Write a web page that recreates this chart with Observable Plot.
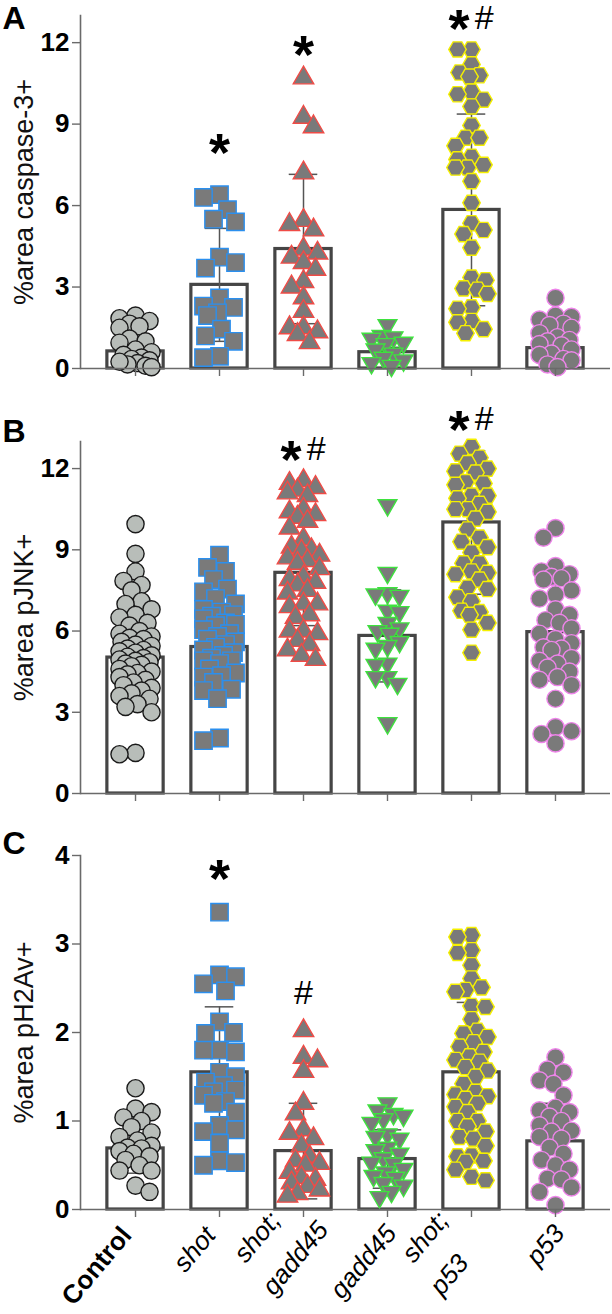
<!DOCTYPE html>
<html><head><meta charset="utf-8">
<script src="https://cdn.jsdelivr.net/npm/d3@7"></script>
<script src="https://cdn.jsdelivr.net/npm/@observablehq/plot@0.6"></script>
<style>
html,body{margin:0;padding:0;background:#fff}
body{width:612px;font-family:"Liberation Sans",Arial,Helvetica,sans-serif}
#chart svg{display:block}
</style></head><body><div id="chart"></div>
<script>
// ---------- categories ----------
const categories = ["Control", "shot", "shot;\ngadd45", "gadd45", "shot;\np53", "p53"];

// ---------- Panel A: %area caspase-3+ ----------
const caspControl = [1.95, 1.85, 1.75, 1.65, 1.55, 1.5, 1.1, 1.0, 0.95, 0.7, 0.6, 0.5, 0.4, 0.35, 0.3, 0.2, 0.15, 0.1, 0.05, 0.25];
const caspShot = [6.4, 6.3, 5.85, 5.5, 5.4, 4.1, 3.9, 3.7, 2.6, 2.3, 2.25, 2.05, 1.95, 1.45, 1.2, 1.0, 0.45, 0.4];
const caspShotGadd45 = [10.7, 9.25, 8.9, 7.2, 5.45, 5.3, 5.1, 4.4, 4.25, 4.1, 3.9, 3.65, 3.2, 3.0, 2.6, 2.1, 1.5, 1.5, 1.35, 1.25, 0.95];
const caspGadd45 = [1.6, 1.2, 1.15, 1.1, 0.95, 0.9, 0.7, 0.55, 0.4, 0.3, 0.2, 0.1];
const caspShotP53 = [11.75, 11.75, 11.2, 10.9, 10.8, 10.75, 10.2, 10.1, 9.9, 9.65, 8.95, 8.5, 8.5, 8.2, 7.8, 7.7, 7.5, 7.4, 7.4, 6.9, 6.1, 5.35, 5.1, 4.95, 4.45, 3.35, 3.25, 2.95, 2.9, 2.75, 2.25, 2.2, 1.75, 1.7, 1.45, 1.3];
const caspP53 = [2.6, 1.95, 1.9, 1.8, 1.65, 1.6, 1.5, 1.3, 1.15, 1.05, 1.0, 0.9, 0.85, 0.7, 0.55, 0.5, 0.35, 0.3, 0.15, 0.05];
const caspMean = [0.63, 3.08, 4.4, 0.6, 5.84, 0.75];
const caspSD = [0.52, 2.08, 2.75, 0.18, 3.53, 0.5];
const caspSig = ["", "*", "*", "", "*#", ""];
const caspSigY = [null, 8.35, 11.96, null, 12.92, null];
const caspTicks = [0, 3, 6, 9, 12];

// ---------- Panel B: %area pJNK+ ----------
const jnkControl = [9.95, 8.85, 8.2, 7.85, 7.7, 7.5, 7.1, 7.0, 6.8, 6.6, 6.5, 6.3, 6.2, 6.0, 5.9, 5.8, 5.75, 5.7, 5.6, 5.5, 5.45, 5.35, 5.3, 5.25, 5.2, 5.1, 5.05, 5.0, 4.95, 4.9, 4.85, 4.8, 4.75, 4.7, 4.6, 4.5, 4.45, 4.4, 4.3, 4.2, 4.1, 4.0, 3.9, 3.8, 3.7, 3.6, 3.5, 3.3, 3.2, 3.0, 1.5, 1.45];
const jnkShot = [8.8, 8.35, 8.2, 7.9, 7.55, 7.45, 7.2, 7.0, 6.8, 6.7, 6.6, 6.55, 6.45, 6.3, 6.25, 6.2, 6.05, 5.9, 5.8, 5.7, 5.6, 5.5, 5.4, 5.3, 5.2, 5.1, 5.0, 4.9, 4.9, 4.8, 4.6, 4.45, 4.35, 4.3, 4.1, 3.85, 3.8, 3.5, 2.05, 1.95];
const jnkShotGadd45 = [11.55, 11.45, 11.3, 11.2, 11.1, 11.0, 10.5, 10.4, 10.3, 10.2, 10.05, 9.8, 9.4, 9.1, 9.0, 8.95, 8.8, 8.7, 8.6, 8.5, 8.3, 8.0, 7.9, 7.8, 7.7, 7.5, 7.4, 7.0, 7.0, 6.9, 6.6, 6.5, 6.0, 6.0, 5.9, 5.65, 5.5, 5.3, 5.1, 4.95];
const jnkGadd45 = [10.65, 8.15, 7.4, 7.35, 7.3, 6.75, 6.7, 6.3, 6.1, 6.0, 5.9, 5.6, 5.45, 5.35, 4.8, 4.75, 4.3, 4.3, 4.05, 2.6];
const jnkShotP53 = [12.8, 12.55, 12.4, 12.2, 12.0, 11.85, 11.9, 11.5, 11.45, 11.4, 11.0, 11.0, 10.9, 10.7, 10.5, 10.5, 10.4, 10.15, 9.75, 9.45, 9.3, 9.1, 8.9, 8.5, 8.5, 8.2, 8.15, 8.1, 7.9, 7.6, 7.55, 7.25, 7.1, 6.75, 6.7, 6.6, 6.3, 6.05, 5.2];
const jnkP53 = [9.8, 9.45, 8.4, 8.2, 8.1, 8.0, 7.95, 7.9, 7.5, 7.35, 7.2, 6.8, 6.6, 6.4, 6.3, 6.1, 5.9, 5.7, 5.55, 5.4, 5.35, 5.3, 5.0, 4.9, 4.8, 4.65, 4.5, 4.3, 4.2, 4.0, 3.5, 2.45, 2.3, 2.2, 1.85];
const jnkMean = [5.02, 5.41, 8.15, 5.82, 10.01, 5.96];
const jnkSD = [1.5, 1.4, 1.95, 1.7, 2.65, 1.8];
const jnkSig = ["", "", "*#", "", "*#", ""];
const jnkSigY = [null, null, 12.73, null, 13.84, null];
const jnkTicks = [0, 3, 6, 9, 12];

// ---------- Panel C: %area pH2Av+ ----------
const h2avControl = [1.37, 1.14, 1.1, 1.04, 1.0, 0.93, 0.87, 0.82, 0.78, 0.72, 0.7, 0.69, 0.66, 0.63, 0.6, 0.56, 0.5, 0.44, 0.44, 0.27, 0.2];
const h2avShot = [3.36, 2.65, 2.63, 2.55, 2.47, 2.12, 2.0, 1.99, 1.8, 1.8, 1.78, 1.55, 1.5, 1.44, 1.4, 1.35, 1.33, 1.29, 1.22, 1.2, 1.1, 0.95, 0.9, 0.88, 0.75, 0.55, 0.53, 0.5];
const h2avShotGadd45 = [2.02, 1.72, 1.68, 1.56, 1.2, 1.08, 0.9, 0.86, 0.8, 0.72, 0.6, 0.55, 0.52, 0.5, 0.42, 0.36, 0.34, 0.3, 0.26, 0.22, 0.18, 0.15];
const h2avGadd45 = [1.2, 1.12, 1.08, 1.06, 1.02, 0.98, 0.85, 0.82, 0.8, 0.7, 0.67, 0.63, 0.58, 0.53, 0.52, 0.46, 0.42, 0.38, 0.36, 0.3, 0.27, 0.2, 0.14];
const h2avShotP53 = [3.1, 3.08, 2.93, 2.9, 2.76, 2.61, 2.51, 2.48, 2.46, 2.3, 2.29, 2.15, 2.02, 1.99, 1.95, 1.89, 1.84, 1.78, 1.73, 1.69, 1.67, 1.61, 1.57, 1.5, 1.42, 1.33, 1.3, 1.28, 1.25, 1.2, 1.16, 1.1, 1.0, 1.0, 0.94, 0.88, 0.82, 0.8, 0.72, 0.61, 0.6, 0.55, 0.54, 0.45, 0.37, 0.33];
const h2avP53 = [1.72, 1.58, 1.55, 1.46, 1.42, 1.29, 1.15, 1.12, 1.1, 1.05, 1.0, 0.95, 0.89, 0.88, 0.82, 0.8, 0.7, 0.63, 0.56, 0.5, 0.45, 0.35, 0.34, 0.25, 0.2, 0.05];
const h2avMean = [0.69, 1.55, 0.66, 0.57, 1.55, 0.77];
const h2avSD = [0.28, 0.74, 0.54, 0.33, 0.79, 0.43];
const h2avSig = ["", "*", "#", "", "", ""];
const h2avSigY = [null, 3.86, 2.44, null, null, null];
const h2avTicks = [0, 1, 2, 3, 4];

// ---------- styling ----------
const FONT = '"Liberation Sans", Arial, Helvetica, sans-serif';
const W = 612, ML = 80, MR = 2;
const XMIN = -0.655, XMAX = 5.655;
const PX_PER_UNIT = (W - ML - MR) / (XMAX - XMIN);
const AXIS = "#6a6a6a";
const BAR = "#454545";
const PT = "#7a7a7a";

const sqrt3 = Math.sqrt(3);
const triDown = {
  draw(ctx, size) {
    const y = Math.sqrt(size / (sqrt3 * 3));
    ctx.moveTo(0, 2 * y);
    ctx.lineTo(-sqrt3 * y, -y);
    ctx.lineTo(sqrt3 * y, -y);
    ctx.closePath();
  }
};
const hexFlat = {
  draw(ctx, size) {
    const r = Math.sqrt(size / Math.PI), R = r * 2 / sqrt3;
    ctx.moveTo(R, 0);
    ctx.lineTo(R / 2, r);
    ctx.lineTo(-R / 2, r);
    ctx.lineTo(-R, 0);
    ctx.lineTo(-R / 2, -r);
    ctx.lineTo(R / 2, -r);
    ctx.closePath();
  }
};
const groupStyles = [
  {symbol: "circle", r: 8.6, fill: "#b8bdb9", stroke: "#1a1a1a"},
  {symbol: "square", r: 9.8, fill: PT, stroke: "#2b8fee"},
  {symbol: "triangle", r: 7.6, fill: PT, stroke: "#f04b46"},
  {symbol: triDown, r: 7.0, fill: PT, stroke: "#3ee23e"},
  {symbol: hexFlat, r: 7.6, fill: PT, stroke: "#f5f000"},
  {symbol: "circle", r: 8.6, fill: PT, stroke: "#ee84ea"}
];

// deterministic beeswarm-like spread (pixel offsets) so points overlap moderately
function swarm(values, yScale, diam, maxOff) {
  const order = d3.range(values.length).sort((a, b) => values[b] - values[a]);
  const placed = [], off = new Array(values.length);
  const minD = diam * 0.85;
  const cands = [0];
  for (let k = 1; k * 2 <= maxOff; k++) cands.push(k * 2, -k * 2);
  let flip = 1;
  for (const i of order) {
    const py = yScale(values[i]);
    let best = 0, bestD = -1;
    for (const c0 of cands) {
      const cx = c0 * flip;
      let md = Infinity;
      for (const p of placed) {
        const d = Math.hypot(cx - p[0], py - p[1]);
        if (d < md) md = d;
      }
      if (md >= minD) { best = cx; bestD = Infinity; break; }
      if (md > bestD) { bestD = md; best = cx; }
    }
    placed.push([best, py]);
    off[i] = best;
    flip = -flip;
  }
  return off;
}

function panel(cfg) {
  const {groups, means, sds, sig, sigY, ymax, ticks, ylabel, letter, height, mt, mb, letterDy, showLabels} = cfg;
  const yScale = d3.scaleLinear().domain([0, ymax]).range([height - mb, mt]);
  const barData = means.map((m, i) => ({i, m, s: sds[i]}));
  const dotMarks = groups.map((vals, i) => {
    const st = groupStyles[i];
    const off = swarm(vals, yScale, st.r * 2, 17);
    const rows = vals.map((v, k) => ({i, v, off: off[k]}));
    return Plot.dot(rows, {
      x: d => d.i + d.off / PX_PER_UNIT, y: "v",
      symbol: st.symbol, r: st.r, fill: st.fill, stroke: st.stroke, strokeWidth: 1.4, fillOpacity: 1
    });
  });
  const sigRows = sig.map((s, i) => ({i, s, y: sigY[i]})).filter(d => d.s);
  const starRows = sigRows.filter(d => d.s.includes("*")).map(d => ({...d, x: d.i - (d.s.length > 1 ? 0.15 : 0)}));
  const hashRows = sigRows.filter(d => d.s.includes("#")).map(d => ({...d, x: d.i + (d.s.length > 1 ? 0.15 : 0)}));
  const labelRows = categories.map((label, i) => {
    const lines = label.split("\n");
    return {i, label, line1: lines[0], line2: lines[1] || null};
  });
  const single = labelRows.filter(d => !d.line2);
  const double = labelRows.filter(d => d.line2);

  const marks = [
    Plot.rectY(barData, {x1: d => d.i - 0.335, x2: d => d.i + 0.335, y1: 0, y2: "m", fill: "white", stroke: BAR, strokeWidth: 3.2}),
    Plot.ruleX(barData, {x: "i", y1: d => Math.max(0, d.m - d.s), y2: d => d.m + d.s, stroke: "#555", strokeWidth: 1.5}),
    Plot.ruleY(barData, {y: d => d.m + d.s, x1: d => d.i - 0.17, x2: d => d.i + 0.17, stroke: "#555", strokeWidth: 1.5}),
    Plot.ruleY(barData.filter(d => d.m - d.s > 0), {y: d => d.m - d.s, x1: d => d.i - 0.17, x2: d => d.i + 0.17, stroke: "#555", strokeWidth: 1.5}),
    ...dotMarks,
    Plot.ruleY([0], {stroke: AXIS, strokeWidth: 1.6}),
    Plot.frame({anchor: "left", stroke: AXIS, strokeWidth: 1.6}),
    Plot.axisX({ticks: d3.range(categories.length), tickSize: 8, tickFormat: () => "", stroke: AXIS, strokeWidth: 1.4, label: null}),
    Plot.axisY({ticks, tickSize: 8, tickFormat: () => "", stroke: AXIS, strokeWidth: 1.4, label: null}),
    Plot.text(ticks, {y: d => d, text: d => String(d), frameAnchor: "left", dx: -11, textAnchor: "end", fontSize: 26, fontWeight: "bold", fill: "black"}),
    Plot.text([ylabel], {text: d => d, frameAnchor: "left", rotate: -90, dx: -56, fontSize: 27, textAnchor: "middle", fill: "#111"}),
    Plot.text([letter], {text: d => d, frameAnchor: "top-left", dx: -78, dy: letterDy, fontSize: 32, fontWeight: "bold", textAnchor: "start", lineAnchor: "top", fill: "black"}),
    Plot.text(starRows, {x: "x", y: "y", text: () => "*", fontSize: 54, fontWeight: "bold", dy: 12, fill: "black"}),
    Plot.text(hashRows, {x: "x", y: "y", text: () => "#", fontSize: 34, fill: "black"})
  ];
  if (showLabels) {
    const common = {x: "i", frameAnchor: "bottom", rotate: -50, fontSize: 26, fill: "black", lineAnchor: "middle"};
    marks.push(
      Plot.text(single.filter(d => d.i === 0), {...common, text: "line1", textAnchor: "end", dx: -9, dy: 21, fontWeight: "bold"}),
      Plot.text(single.filter(d => d.i === 1), {...common, text: "line1", textAnchor: "end", dx: -9, dy: 21, fontStyle: "italic"}),
      Plot.text(single.filter(d => d.i > 1), {...common, text: "line1", textAnchor: "end", dx: 4, dy: 19, fontStyle: "italic"}),
      Plot.text(double, {...common, text: "line1", textAnchor: "end", dx: -28, dy: 6, fontStyle: "italic"}),
      Plot.text(double, {...common, text: "line2", textAnchor: "start", dx: -36, dy: 82, fontStyle: "italic"})
    );
  }
  return Plot.plot({
    width: W, height, marginTop: mt, marginBottom: mb, marginLeft: ML, marginRight: MR,
    x: {domain: [XMIN, XMAX], axis: null},
    y: {domain: [0, ymax], axis: null},
    style: {fontFamily: FONT, background: "white", overflow: "visible"},
    marks
  });
}

const root = document.getElementById("chart");
root.append(panel({
  groups: [caspControl, caspShot, caspShotGadd45, caspGadd45, caspShotP53, caspP53],
  means: caspMean, sds: caspSD, sig: caspSig, sigY: caspSigY, ymax: 13, ticks: caspTicks,
  ylabel: "%area caspase-3+", letter: "A", height: 400, mt: 15, mb: 32, letterDy: -9, showLabels: false
}));
root.append(panel({
  groups: [jnkControl, jnkShot, jnkShotGadd45, jnkGadd45, jnkShotP53, jnkP53],
  means: jnkMean, sds: jnkSD, sig: jnkSig, sigY: jnkSigY, ymax: 13, ticks: jnkTicks,
  ylabel: "%area pJNK+", letter: "B", height: 420, mt: 41, mb: 27, letterDy: -22, showLabels: false
}));
root.append(panel({
  groups: [h2avControl, h2avShot, h2avShotGadd45, h2avGadd45, h2avShotP53, h2avP53],
  means: h2avMean, sds: h2avSD, sig: h2avSig, sigY: h2avSigY, ymax: 4, ticks: h2avTicks,
  ylabel: "%area pH2Av+", letter: "C", height: 494, mt: 35, mb: 105, letterDy: -24, showLabels: true
}));
</script></body></html>
